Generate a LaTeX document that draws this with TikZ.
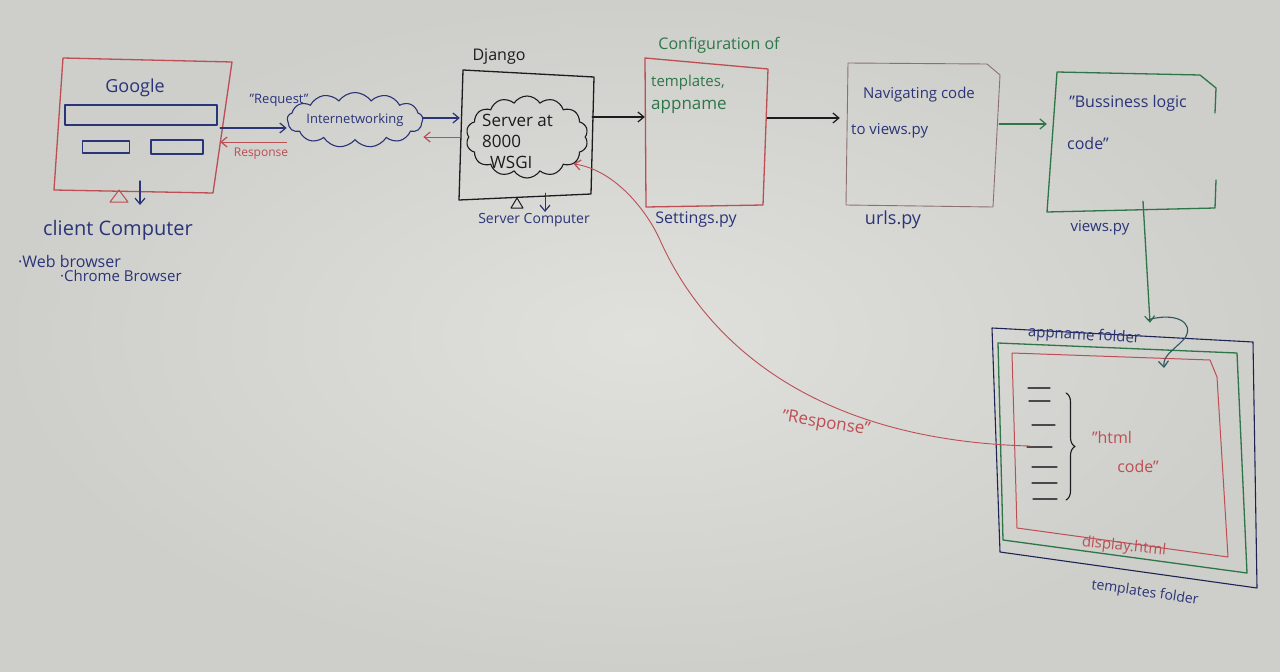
\documentclass[tikz,border=0pt]{standalone}
\usepackage{fontspec}
\setmainfont{Open Sans}
\usetikzlibrary{shapes.symbols,arrows.meta,decorations.pathreplacing,calc}
\definecolor{board}{RGB}{224,224,220}
\definecolor{boardedge}{RGB}{206,206,202}
\definecolor{inkblue}{RGB}{42,52,120}
\definecolor{inkred}{RGB}{188,78,84}
\definecolor{inkgreen}{RGB}{46,118,72}
\definecolor{inkblack}{RGB}{28,28,30}
\definecolor{inkgrey}{RGB}{140,112,112}
\newcommand{\hwfs}[1]{\fontsize{#1}{#1}\selectfont}
\begin{document}
\begin{tikzpicture}[x=1pt,y=-1pt,
  ink/.style={line width=1.3pt, line cap=round, line join=round},
  arr/.style={-{Straight Barb[length=6pt,width=10pt,line width=1.2pt]}},
  txt/.style={inner sep=0pt, font=\hwfs{#1}},
  anch/.style={inner sep=0pt, draw=none, rectangle},
  puffy/.style={cloud, cloud ignores aspect, inner sep=0pt, line width=1.1pt},
]
\useasboundingbox (0,0) rectangle (1280,672);
\shade[inner color=board, outer color=boardedge] (0,0) rectangle (1280,672);

% ---------- client computer ----------
\node[anch, minimum width=164pt, minimum height=130pt] (client) at (138,128) {};
\draw[ink, inkred] (63,58) -- (232,62) -- (213,193) -- (54,190) -- cycle;
\node[txt=18, text=inkblue] (google) at (135,88) {Google};
\node[anch, draw=inkblue, ink, minimum width=152pt, minimum height=20pt] (search) at (141,115) {};
\node[anch, draw=inkblue, ink, minimum width=47pt, minimum height=12pt] (btna) at (106,147) {};
\node[anch, draw=inkblue, ink, minimum width=52pt, minimum height=14pt] (btnb) at (177,147) {};
\draw[ink, inkred, line width=1pt] (110,202) -- (128,202) -- (119,190) -- cycle;
\draw[ink, inkblue, arr] (140,181) -- (140,205);
\node[txt=20, text=inkblue] (clientlbl) at (118,230) {client Computer};
\node[txt=16, text=inkblue, anchor=west] (webbr) at (18,261) {·Web browser};
\node[txt=15, text=inkblue, anchor=west] (chrome) at (60,276) {·Chrome Browser};

% ---------- internetworking ----------
\node[puffy, cloud puffs=13, cloud puff arc=110, draw=inkblue, minimum width=130pt, minimum height=55pt, text=inkblue, font=\hwfs{13}] (inet) at (355,120) {Internetworking};
\node[txt=13, text=inkblue] (reqlbl) at (279,100) {"Request"};
\node[txt=12, text=inkred] (resplbl) at (261,154) {Response};
\draw[ink, inkblue, arr] (client.east) -- (client.east -| inet.west);
\draw[ink, inkred, arr, line width=1pt] ([yshift=-22pt]inet.west) -- ([yshift=-22pt]inet.west -| client.east);

% ---------- django ----------
\node[txt=16, text=inkblack] (djlbl) at (499,57) {Django};
\node[anch, minimum width=132pt, minimum height=128pt] (django) at (526,135) {};
\draw[ink, inkblack] (463,70) -- (594,77) -- (591,194) -- (459,200) -- cycle;
\node[puffy, cloud puffs=14, cloud puff arc=115, draw=inkblack, minimum width=122pt, minimum height=82pt] (srv) at (527,137) {};
\node[inner sep=0pt, text=inkblack, align=left, anchor=north west, font=\fontsize{17}{21}\selectfont] (srvtxt) at (482,114) {Server at\\8000\\\hspace{8pt}WSGI};
\draw[ink, inkblack, line width=1pt] (511,208) -- (523,208) -- (517,198) -- cycle;
\draw[ink, inkblue, arr, line width=1pt] (545,193) -- (545,212);
\node[txt=14, text=inkblue] (srvcomp) at (534,220) {Server Computer};
\draw[ink, inkblue, arr] ([yshift=2pt]inet.east) -- ([yshift=2pt]inet.east -| django.west);
\draw[ink, inkred, arr, line width=1pt] ([yshift=-2pt]django.west) -- ([yshift=-2pt]django.west -| inet.east);

% ---------- settings ----------
\node[txt=16, text=inkgreen] (conf) at (719,45) {Configuration of};
\node[anch, minimum width=122pt, minimum height=148pt] (settings) at (706,132) {};
\draw[ink, inkred] (645,58) -- (768,69) -- (763,205) -- (646,207) -- cycle;
\node[txt=15, text=inkgreen, anchor=west] (tmplts) at (651,83) {templates,};
\node[txt=17, text=inkgreen, anchor=west] (appnm) at (651,107) {appname};
\node[txt=16, text=inkblue] (setpy) at (696,220) {Settings.py};
\draw[ink, inkblack, arr] ([yshift=18pt]django.east) -- ([yshift=18pt]django.east -| settings.west);

% ---------- urls ----------
\node[anch, minimum width=152pt, minimum height=144pt] (urls) at (923,134) {};
\draw[ink, inkgrey, line width=0.9pt] (848,63) -- (987,64) -- (1000,75) -- (993,207) -- (846,205) -- cycle;
\node[txt=15, text=inkblue] (nav1) at (919,95) {Navigating code};
\node[txt=15, text=inkblue, anchor=west] (nav2) at (851,131) {to views.py};
\node[txt=18, text=inkblue] (urlspy) at (893,220) {urls.py};
\draw[ink, inkblack, arr] ([yshift=14pt]settings.east) -- ([yshift=14pt,xshift=-7pt]settings.east -| urls.west);

% ---------- views ----------
\node[anch, minimum width=168pt, minimum height=140pt] (views) at (1131,141) {};
\draw[ink, inkgreen] (1215,113) -- (1216,88) -- (1200,75) -- (1057,72) -- (1047,212) -- (1215,208) -- (1216,180);
\node[txt=16, text=inkblue] (biz1) at (1128,103) {"Bussiness logic};
\node[txt=16, text=inkblue, anchor=west] (biz2) at (1067,143) {code"};
\node[txt=15, text=inkblue] (viewspy) at (1100,228) {views.py};
\draw[ink, inkgreen, arr] ([yshift=10pt]urls.east) -- ([yshift=10pt]urls.east -| views.west);

% ---------- templates / appname / display.html ----------
\node[anch, minimum width=262pt, minimum height=260pt] (tmpl) at (1124,458) {};
\draw[ink, inkblue!70!black, line width=1.1pt] (992,328) -- (1253,342) -- (1257,588) -- (1000,552) -- cycle;
\draw[ink, inkgreen] (998,343) -- (1237,353) -- (1247,573) -- (1003,540) -- cycle;
\node[anch, minimum width=216pt, minimum height=200pt] (disp) at (1120,455) {};
\draw[ink, inkred, line width=1pt] (1012,353) -- (1210,360) -- (1217,377) -- (1228,557) -- (1017,528) -- cycle;
\node[txt=15, text=inkblue, rotate=-3] (appfold) at (1084,336) {appname folder};
\node[txt=14, text=inkblue, rotate=-8] (tmplfold) at (1145,593) {templates folder};
\node[txt=15, text=inkred, rotate=-6] (disphtml) at (1124,547) {display.html};
\foreach \yy/\xa/\xb in {388/1028/1050, 401/1029/1050, 425/1032/1055, 447/1027/1052, 467/1032/1057, 483/1032/1057, 499/1033/1057}
  \draw[ink, inkblack!80, line width=1.1pt] (\xa,\yy) -- (\xb,\yy);
\draw[ink, inkblack, line width=1.1pt, decorate, decoration={brace, amplitude=9pt}] (1066,393) -- (1066,500);
\node[txt=16, text=inkred] (html1) at (1112,437) {"html};
\node[txt=16, text=inkred] (html2) at (1138,466) {code"};

% ---------- flow back ----------
\draw[ink, inkgreen, arr] ([xshift=12pt,yshift=10pt]views.south) -- ([xshift=26pt,yshift=5pt]tmpl.north);
\draw[ink, inkgreen!55!inkblue, line width=1.1pt, arr] ([xshift=24pt,yshift=8pt]tmpl.north) .. controls (1175,312) and (1195,322) .. (1185,338) .. controls (1172,352) and (1163,355) .. (1164,368);
\draw[ink, inkred, line width=0.9pt, arr] ([xshift=18pt,yshift=9pt]disp.west) .. controls (800,440) and (700,330) .. (660,240) .. controls (647,211) and (615,170) .. (srv.-30);
\node[txt=17, text=inkred, rotate=-9] (resp2) at (826,424) {"Response"};
\end{tikzpicture}
\end{document}
